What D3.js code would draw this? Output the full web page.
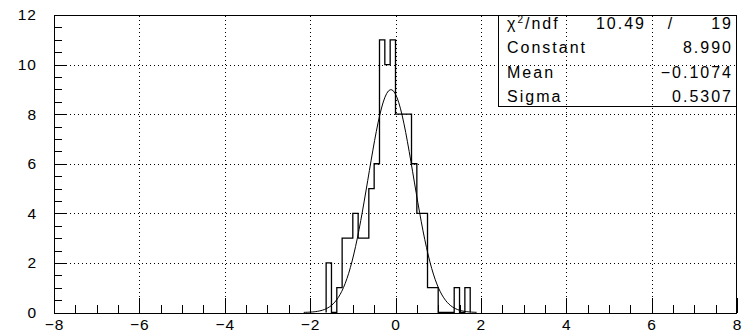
<!DOCTYPE html>
<html>
<head>
<meta charset="utf-8">
<script src="https://cdn.jsdelivr.net/npm/d3@7"></script>
<style>
  html, body { margin: 0; padding: 0; background: #fff; }
  svg { display: block; }
  text { font-family: "Liberation Sans", Arial, Helvetica, sans-serif; fill: #000; }
</style>
</head>
<body>
<svg id="chart" width="742" height="333"></svg>
<script>
// Histogram: lower bin edges (bin width 0.125) and entries per bin
const binWidth = 0.125;
const binLo = [-1.625, -1.5, -1.375, -1.25, -1.125, -1.0, -0.875, -0.75, -0.625, -0.5,
               -0.375, -0.25, -0.125, 0, 0.125, 0.25, 0.375, 0.5, 0.625, 0.75,
               0.875, 1.0, 1.125, 1.25, 1.375, 1.5, 1.625];
const counts = [2, 0, 1, 3, 3, 4, 3, 3, 5, 6,
                11, 10, 11, 8, 8, 8, 6, 4, 4, 1,
                1, 0, 0, 0, 1, 0, 1];

// Gaussian fit result
const fitConstant = 8.990;
const fitMean = -0.1074;
const fitSigma = 0.5307;
const fitRange = [-2.15, 1.9];
const chi2 = "10.49";
const ndf = "19";

// Stats box rows
const statNames = ["Constant", "Mean", "Sigma"];
const statValues = ["8.990", "\u22120.1074", "0.5307"];

// Axes
const xDomain = [-8, 8];
const yDomain = [0, 12];
const xMajor = [-8, -6, -4, -2, 0, 2, 4, 6, 8];
const yMajor = [0, 2, 4, 6, 8, 10, 12];

const L = 54, R = 737, T = 15, B = 312.5;
const svg = d3.select("#chart");
const x = d3.scaleLinear().domain(xDomain).range([L, R]);
const y = d3.scaleLinear().domain(yDomain).range([B, T]);

const fmt = v => (v < 0 ? "\u2212" + Math.abs(v) : String(v));

// Dotted grid
const grid = svg.append("g").attr("stroke", "#000").attr("stroke-width", 1)
  .attr("stroke-dasharray", "1,3").attr("shape-rendering", "crispEdges");
grid.selectAll("line.gx").data(xMajor.slice(1, -1)).join("line")
  .attr("x1", d => Math.round(x(d)) + 0.5).attr("x2", d => Math.round(x(d)) + 0.5)
  .attr("y1", B).attr("y2", T);
grid.selectAll("line.gy").data(yMajor.slice(1, -1)).join("line")
  .attr("y1", d => Math.round(y(d)) + 0.5).attr("y2", d => Math.round(y(d)) + 0.5)
  .attr("x1", L).attr("x2", R);

// Frame
svg.append("rect").attr("x", L + 0.5).attr("y", T + 0.5)
  .attr("width", R - L - 1).attr("height", B - T)
  .attr("fill", "none").attr("stroke", "#000").attr("stroke-width", 1)
  .attr("shape-rendering", "crispEdges");

// Minor ticks every 0.5
const xMinor = d3.range(-8, 8.01, 0.5);
const yMinor = d3.range(0, 12.01, 0.5);
svg.append("g").attr("transform", `translate(0,${B})`)
  .call(d3.axisBottom(x).tickValues(xMinor).tickSize(-8).tickFormat(""))
  .call(g => g.select(".domain").remove());
svg.append("g").attr("transform", `translate(${L},0)`)
  .call(d3.axisLeft(y).tickValues(yMinor).tickSize(-8).tickFormat(""))
  .call(g => g.select(".domain").remove());

// Major ticks with labels
const xAxis = svg.append("g").attr("transform", `translate(0,${B})`)
  .call(d3.axisBottom(x).tickValues(xMajor).tickSize(-15).tickPadding(6).tickFormat(fmt));
xAxis.select(".domain").remove();
const yAxis = svg.append("g").attr("transform", `translate(${L},0)`)
  .call(d3.axisLeft(y).tickValues(yMajor).tickSize(-13).tickPadding(17).tickFormat(fmt));
yAxis.select(".domain").remove();
svg.selectAll(".tick line").attr("stroke", "#000").attr("shape-rendering", "crispEdges");
svg.selectAll(".tick text").attr("font-size", 15.5).attr("font-family", "Liberation Sans, Arial, sans-serif")
  .attr("fill", "#000").attr("letter-spacing", 1);

// Histogram outline (steps)
const pts = [];
pts.push([binLo[0], 0]);
binLo.forEach((lo, i) => {
  pts.push([lo, counts[i]]);
  pts.push([lo + binWidth, counts[i]]);
});
pts.push([binLo[binLo.length - 1] + binWidth, 0]);
svg.append("path")
  .attr("d", d3.line().x(d => x(d[0])).y(d => y(d[1]))(pts))
  .attr("fill", "none").attr("stroke", "#000").attr("stroke-width", 1.3);

// Gaussian fit curve
const gauss = v => fitConstant * Math.exp(-0.5 * Math.pow((v - fitMean) / fitSigma, 2));
const curve = d3.range(fitRange[0], fitRange[1] + 1e-9, (fitRange[1] - fitRange[0]) / 100)
  .map(v => [v, gauss(v)]);
svg.append("path")
  .attr("d", d3.line().x(d => x(d[0])).y(d => y(d[1]))(curve))
  .attr("fill", "none").attr("stroke", "#000").attr("stroke-width", 1);

// Stats box
const bx0 = 498, bx1 = R, by0 = T, by1 = 106;
svg.append("rect").attr("x", bx0 + 0.5).attr("y", by0 + 0.5)
  .attr("width", bx1 - bx0 - 1).attr("height", by1 - by0)
  .attr("fill", "none").attr("stroke", "#000").attr("shape-rendering", "crispEdges");
const st = svg.append("g").attr("font-size", 16).attr("letter-spacing", 2);
const rowBase = [28.5, 53, 77.5, 102];
const chiT = st.append("text").attr("x", 507).attr("y", rowBase[0]);
chiT.append("tspan").text("\u03C7");
chiT.append("tspan").attr("font-size", 10).attr("dy", -6).text("2");
chiT.append("tspan").attr("dy", 6).text("/ndf");
st.append("text").attr("x", 646).attr("y", rowBase[0]).attr("text-anchor", "end").text(chi2);
st.append("text").attr("x", 671).attr("y", rowBase[0]).attr("text-anchor", "middle").text("/");
st.append("text").attr("x", 733).attr("y", rowBase[0]).attr("text-anchor", "end").text(ndf);
statNames.forEach((n, i) => {
  st.append("text").attr("x", 507).attr("y", rowBase[i + 1]).text(n);
  st.append("text").attr("x", 733).attr("y", rowBase[i + 1]).attr("text-anchor", "end").text(statValues[i]);
});
</script>
</body>
</html>
